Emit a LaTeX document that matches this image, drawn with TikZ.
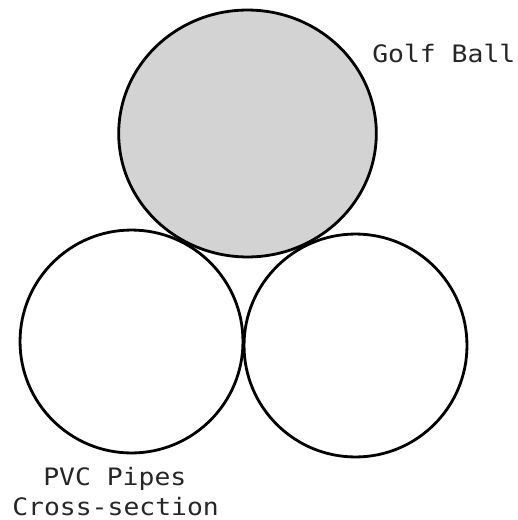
\documentclass[tikz,border=0pt]{standalone}
\usepackage{fontspec}
\setmonofont[FakeStretch=1.1]{DejaVu Sans Mono}
\begin{document}
\begin{tikzpicture}[x=0.75pt,y=-0.75pt,
  outline/.style={draw=black,line width=2.1pt},
  label/.style={font=\ttfamily\fontsize{18}{20}\selectfont,text=black!85,inner sep=0pt,anchor=base west}]
\useasboundingbox (0,0) rectangle (517,520);
\fill[white] (0,0) rectangle (517,520);
\draw[outline,fill={rgb,255:red,211;green,211;blue,211}] (247.5,133.5) ellipse [x radius=96.6pt, y radius=92.6pt];
\draw[outline] (131.5,341.5) circle [radius=83.6pt];
\draw[outline] (355.5,345.5) circle [radius=83.6pt];
\node[label] (golf) at (372,63) {Golf Ball};
\node[label] (pvc) at (43,485) {PVC Pipes};
\node[label] (cross) at (12,515) {Cross-section};
\end{tikzpicture}
\end{document}
